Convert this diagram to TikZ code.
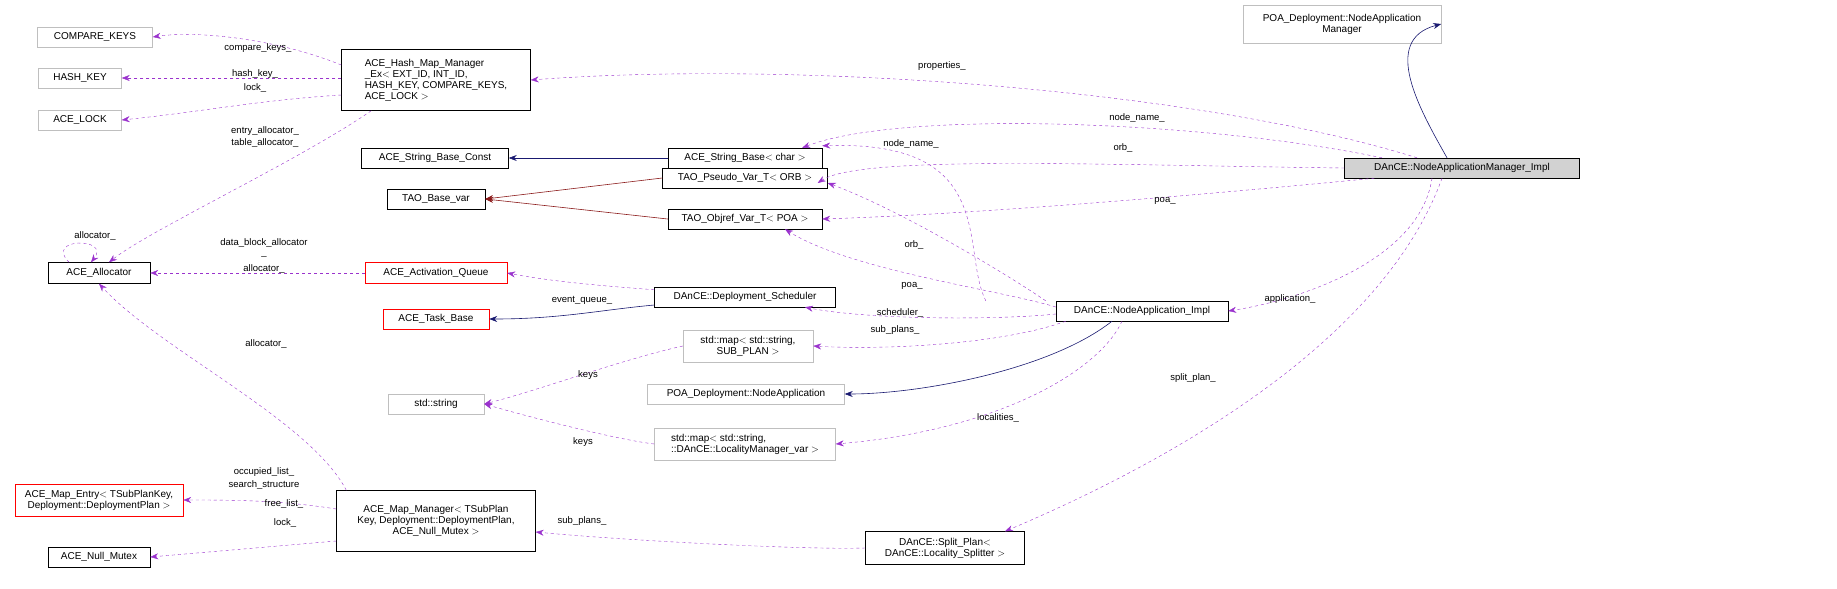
\documentclass[tikz,border=0pt]{standalone}
\usepackage{fontspec}
\setmainfont{Liberation Sans}
\usetikzlibrary{arrows.meta,calc}
\definecolor{usec}{HTML}{9A32CD}
\definecolor{inhc}{HTML}{191970}
\definecolor{tplc}{HTML}{8B1A1A}
\definecolor{grayb}{HTML}{BFBFBF}
\begin{document}
\begin{tikzpicture}[x=1pt,y=-1pt,
 box/.style={draw=black,rectangle,inner sep=0pt,align=center,font=\fontsize{10}{11}\selectfont,fill=white},
 gbox/.style={box,draw=grayb},
 rbox/.style={box,draw=red},
 use/.style={draw=usec,dashed,-{Stealth[length=8pt,width=6pt]}},
 inh/.style={draw=inhc,semithick,-{Stealth[length=8pt,width=6pt]}},
 tpl/.style={draw=tplc,semithick,-{Stealth[length=8pt,width=6pt]}},
 lbl/.style={font=\fontsize{9.5}{10.5}\selectfont,inner sep=0pt}]
\useasboundingbox (0,0) rectangle (1837,589);
% nodes
\node[gbox,minimum width=198,minimum height=38] (poanam) at (1342,24) {POA\_Deployment::NodeApplication\\Manager};
\node[box,fill=lightgray!70,minimum width=235,minimum height=20] (impl) at (1462,168) {DAnCE::NodeApplicationManager\_Impl};
\node[gbox,minimum width=115,minimum height=20] (ck) at (95,37) {COMPARE\_KEYS};
\node[gbox,minimum width=83,minimum height=20] (hk) at (80,78) {HASH\_KEY};
\node[gbox,minimum width=83,minimum height=20] (al) at (80,120) {ACE\_LOCK};
\node[box,minimum width=189,minimum height=61,align=left] (hash) at (436,80) {ACE\_Hash\_Map\_Manager\\\_Ex$<$ EXT\_ID, INT\_ID,\\ HASH\_KEY, COMPARE\_KEYS,\\ ACE\_LOCK $>$};
\node[box,minimum width=147,minimum height=20] (sbc) at (435,158) {ACE\_String\_Base\_Const};
\node[box,minimum width=154,minimum height=20] (sb) at (745,158) {ACE\_String\_Base$<$ char $>$};
\node[box,minimum width=165,minimum height=20] (pseudo) at (745,178) {TAO\_Pseudo\_Var\_T$<$ ORB $>$};
\node[box,minimum width=98,minimum height=20] (basevar) at (436,199) {TAO\_Base\_var};
\node[box,minimum width=154,minimum height=20] (objref) at (745,219) {TAO\_Objref\_Var\_T$<$ POA $>$};
\node[box,minimum width=102,minimum height=21] (alloc) at (99,273) {ACE\_Allocator};
\node[rbox,minimum width=142,minimum height=21] (aq) at (436,273) {ACE\_Activation\_Queue};
\node[box,minimum width=181,minimum height=20] (sched) at (745,297) {DAnCE::Deployment\_Scheduler};
\node[rbox,minimum width=106,minimum height=20] (tb) at (436,319) {ACE\_Task\_Base};
\node[box,minimum width=172,minimum height=20] (nai) at (1142,311) {DAnCE::NodeApplication\_Impl};
\node[gbox,minimum width=130,minimum height=32] (map1) at (748,346) {std::map$<$ std::string,\\ SUB\_PLAN $>$};
\node[gbox,minimum width=96,minimum height=20] (str) at (436,404) {std::string};
\node[gbox,minimum width=197,minimum height=20] (poana) at (746,394) {POA\_Deployment::NodeApplication};
\node[gbox,minimum width=181,minimum height=32,align=left] (map2) at (745,444) {std::map$<$ std::string,\\ ::DAnCE::LocalityManager\_var $>$};
\node[rbox,minimum width=168,minimum height=32] (me) at (99,500) {ACE\_Map\_Entry$<$ TSubPlanKey,\\ Deployment::DeploymentPlan $>$};
\node[box,minimum width=102,minimum height=20] (nm) at (99,557) {ACE\_Null\_Mutex};
\node[box,minimum width=199,minimum height=61] (mm) at (436,521) {ACE\_Map\_Manager$<$ TSubPlan\\Key, Deployment::DeploymentPlan,\\ ACE\_Null\_Mutex $>$};
\node[box,minimum width=159,minimum height=33] (sp) at (945,548) {DAnCE::Split\_Plan$<$\\ DAnCE::Locality\_Splitter $>$};
% edges from impl
\draw[inh] ($(impl.north)+(-15,0)$) .. controls (1420,110) and (1380,40) .. (poanam.east);
\draw[use] ($(impl.north)+(-45,0)$) .. controls (1200,90) and (800,60) .. (hash.east);
\draw[use] ($(impl.north)+(-80,0)$) .. controls (1200,120) and (900,110) .. ($(sb.north east)+(-20,0)$);
\draw[use] (impl.west) .. controls (1100,165) and (860,155) .. ($(pseudo.east)+(-10,5)$);
\draw[use] ($(impl.south west)+(30,0)$) .. controls (1150,200) and (950,215) .. (objref.east);
\draw[use] ($(impl.south)+(-30,0)$) .. controls (1420,260) and (1300,300) .. (nai.east);
\draw[use] ($(impl.south)+(-20,0)$) .. controls (1380,350) and (1150,470) .. ($(sp.north)+(60,0)$);
% hash map
\draw[use] ($(hash.west)+(0,-15)$) .. controls (280,40) and (200,30) .. (ck.east);
\draw[use] ($(hash.west)+(0,-2)$) -- (hk.east);
\draw[use] ($(hash.west)+(0,15)$) .. controls (260,100) and (200,112) .. (al.east);
\draw[use] ($(hash.south west)+(30,0)$) .. controls (300,160) and (150,230) .. ($(alloc.north)+(10,0)$);
\draw[use] ($(alloc.north)+(-30,0)$) .. controls +(-25,-25) and +(20,-25) .. ($(alloc.north)+(-8,0)$);
% inheritance / template
\draw[inh] (sb.west) -- (sbc.east);
\draw[tpl] (pseudo.west) -- (basevar.east);
\draw[tpl] (objref.west) -- (basevar.east);
\draw[inh] ($(sched.west)+(0,8)$) .. controls (600,310) and (560,319) .. (tb.east);
% activation queue
\draw[use] (aq.west) -- (alloc.east);
\draw[use] ($(sched.north west)+(0,3)$) .. controls (620,287) and (560,283) .. (aq.east);
\draw[use] ($(mm.north west)+(10,0)$) .. controls (310,420) and (160,350) .. (alloc.south);
% NAI
\draw[use] ($(nai.north west)+(-70,0)$) .. controls (960,250) and (1000,140) .. ($(sb.north east)+(0,-2)$);
\draw[use] ($(nai.north west)+(-10,0)$) .. controls (1000,270) and (900,210) .. ($(pseudo.east)+(0,5)$);
\draw[use] ($(nai.west)+(0,-4)$) .. controls (1000,290) and (850,270) .. ($(objref.south)+(40,0)$);
\draw[use] ($(nai.west)+(0,3)$) .. controls (1000,320) and (870,320) .. ($(sched.south)+(60,0)$);
\draw[use] ($(nai.south west)+(10,0)$) .. controls (1000,345) and (880,350) .. (map1.east);
\draw[inh] ($(nai.south)+(-30,0)$) .. controls (1050,370) and (920,394) .. (poana.east);
\draw[use] ($(nai.south)+(-20,0)$) .. controls (1100,370) and (1000,430) .. (map2.east);
% strings
\draw[use] (map1.west) .. controls (620,360) and (540,390) .. (str.east);
\draw[use] (map2.west) .. controls (620,440) and (540,420) .. (str.east);
% map manager
\draw[use] ($(mm.west)+(0,-12)$) .. controls (280,500) and (230,500) .. (me.east);
\draw[use] ($(mm.west)+(0,20)$) -- (nm.east);
\draw[use] (sp.west) .. controls (800,550) and (620,540) .. ($(mm.east)+(0,11)$);
% labels
\node[lbl] at (258,48) {compare\_keys\_};
\node[lbl] at (255,74) {hash\_key\_};
\node[lbl] at (255,88) {lock\_};
\node[lbl] at (265,131) {entry\_allocator\_};
\node[lbl] at (265,143) {table\_allocator\_};
\node[lbl] at (95,236) {allocator\_};
\node[lbl] at (264,243) {data\_block\_allocator};
\node[lbl] at (264,256) {\_};
\node[lbl] at (264,269) {allocator\_};
\node[lbl] at (942,66) {properties\_};
\node[lbl] at (1137,118) {node\_name\_};
\node[lbl] at (911,144) {node\_name\_};
\node[lbl] at (1123,148) {orb\_};
\node[lbl] at (914,245) {orb\_};
\node[lbl] at (1165,201) {poa\_};
\node[lbl] at (912,286) {poa\_};
\node[lbl] at (582,300) {event\_queue\_};
\node[lbl] at (900,313) {scheduler\_};
\node[lbl] at (895,330) {sub\_plans\_};
\node[lbl] at (1290,299) {application\_};
\node[lbl] at (1193,378) {split\_plan\_};
\node[lbl] at (998,418) {localities\_};
\node[lbl] at (588,375) {keys};
\node[lbl] at (583,442) {keys};
\node[lbl] at (266,344) {allocator\_};
\node[lbl] at (264,472) {occupied\_list\_};
\node[lbl] at (264,485) {search\_structure};
\node[lbl] at (284,504) {free\_list\_};
\node[lbl] at (285,523) {lock\_};
\node[lbl] at (582,521) {sub\_plans\_};
\end{tikzpicture}
\end{document}
